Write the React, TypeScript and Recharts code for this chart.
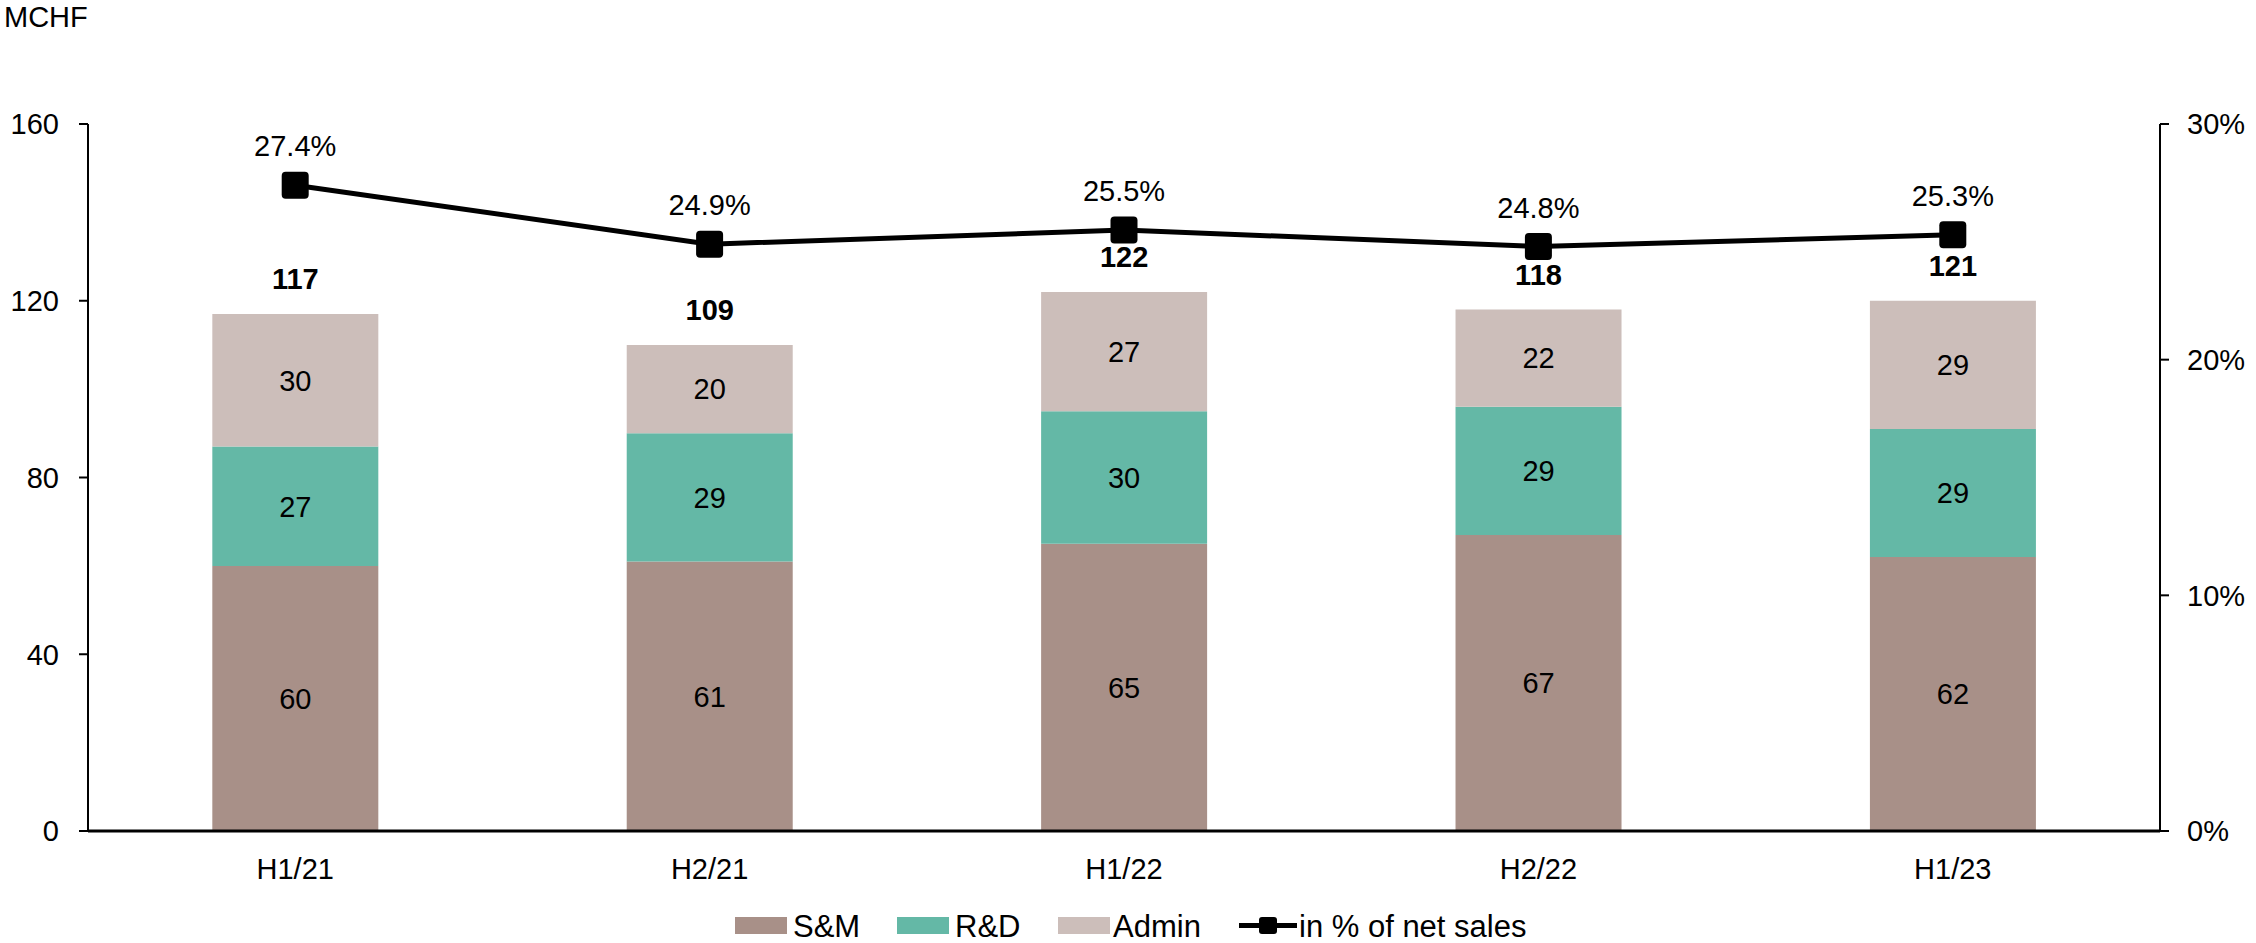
import React from "react";
import { ComposedChart, Bar, Line, XAxis, YAxis, LabelList, Legend } from "recharts";

const periods = ["H1/21", "H2/21", "H1/22", "H2/22", "H1/23"];
const salesMarketing = [60, 61, 65, 67, 62];
const researchDev = [27, 29, 30, 29, 29];
const admin = [30, 20, 27, 22, 29];
const totals = [117, 109, 122, 118, 121];
const pctOfSales = [27.4, 24.9, 25.5, 24.8, 25.3];

const leftTicks = [0, 40, 80, 120, 160];
const rightTicks = [0, 10, 20, 30];

const FONT = "'Liberation Sans', Arial, sans-serif";
const C_SM = "#A89088";
const C_RD = "#64B8A6";
const C_ADMIN = "#CCBEBA";

const data = periods.map((p, i) => ({
    period: p,
    sm: salesMarketing[i],
    rd: researchDev[i],
    admin: admin[i],
    pct: pctOfSales[i],
}));

const SquareDot = (props: any) => {
    const { cx, cy } = props;
    if (cx == null || cy == null) return null;
    return <rect x={cx - 13.5} y={cy - 13.5} width={27} height={27} rx={4} fill="#000" />;
};

const TotalLabel = (props: any) => {
    const { x, y, width, index } = props;
    return (
        <text x={x + width / 2} y={y - 25} textAnchor="middle" fontSize={29} fontWeight="bold" fontFamily={FONT} fill="#000">
            {totals[index]}
        </text>
    );
};

const PctLabel = (props: any) => {
    const { x, y, index } = props;
    return (
        <text x={x} y={y - 29} textAnchor="middle" fontSize={29} fontFamily={FONT} fill="#000">
            {pctOfSales[index].toFixed(1)}%
        </text>
    );
};

// legend drawn by hand so the swatches and spacing follow the original
const LegendContent = () => (
    <svg width={800} height={38} style={{ display: "block", overflow: "visible" }}>
        <g fontSize={31} fontFamily={FONT} fill="#000">
            <rect x={0} y={14} width={52} height={17} fill={C_SM} />
            <text x={58} y={34}>S&amp;M</text>
            <rect x={162} y={14} width={52} height={17} fill={C_RD} />
            <text x={220} y={34}>R&amp;D</text>
            <rect x={323} y={14} width={52} height={17} fill={C_ADMIN} />
            <text x={378} y={34}>Admin</text>
            <line x1={504} y1={22.5} x2={562} y2={22.5} stroke="#000" strokeWidth={5} />
            <rect x={524} y={14} width={18} height={17} rx={3} fill="#000" />
            <text x={564} y={34}>in % of net sales</text>
        </g>
    </svg>
);

export default function App() {
    return (
        <div style={{ position: "absolute", left: 0, top: 0, width: 2256, height: 943, background: "#fff", overflow: "hidden" }}>
            <div style={{ position: "absolute", left: 4, top: 1, fontSize: 29, fontFamily: FONT, color: "#000" }}>MCHF</div>
            <ComposedChart
                width={2256}
                height={943}
                data={data}
                margin={{ top: 124, right: 0, left: 0, bottom: 34 }}
                barCategoryGap="30%"
            >
                <XAxis
                    dataKey="period"
                    axisLine={{ stroke: "#000", strokeWidth: 3 }}
                    tickLine={false}
                    tickSize={0}
                    tickMargin={27}
                    height={40}
                    tick={{ fontSize: 29, fill: "#000", fontFamily: FONT }}
                />
                <YAxis
                    yAxisId="left"
                    domain={[0, 160]}
                    ticks={leftTicks}
                    width={88}
                    axisLine={{ stroke: "#000", strokeWidth: 2 }}
                    tickLine={{ stroke: "#000", strokeWidth: 2 }}
                    tickSize={9}
                    tickMargin={20}
                    tick={{ fontSize: 29, fill: "#000", fontFamily: FONT }}
                />
                <YAxis
                    yAxisId="right"
                    orientation="right"
                    domain={[0, 30]}
                    ticks={rightTicks}
                    width={96}
                    axisLine={{ stroke: "#000", strokeWidth: 2 }}
                    tickLine={{ stroke: "#000", strokeWidth: 2 }}
                    tickSize={9}
                    tickMargin={18}
                    tickFormatter={(v) => `${v}%`}
                    tick={{ fontSize: 29, fill: "#000", fontFamily: FONT }}
                />
                <Legend
                    verticalAlign="bottom"
                    content={<LegendContent />}
                    wrapperStyle={{ top: 903, left: 735, width: 800, height: 38 }}
                />
                <Bar yAxisId="left" dataKey="sm" name="S&M" stackId="a" fill={C_SM} isAnimationActive={false}>
                    <LabelList dataKey="sm" position="center" fontSize={29} fill="#000" fontFamily={FONT} />
                </Bar>
                <Bar yAxisId="left" dataKey="rd" name="R&D" stackId="a" fill={C_RD} isAnimationActive={false}>
                    <LabelList dataKey="rd" position="center" fontSize={29} fill="#000" fontFamily={FONT} />
                </Bar>
                <Bar yAxisId="left" dataKey="admin" name="Admin" stackId="a" fill={C_ADMIN} isAnimationActive={false}>
                    <LabelList dataKey="admin" position="center" fontSize={29} fill="#000" fontFamily={FONT} />
                    <LabelList dataKey="admin" content={<TotalLabel />} />
                </Bar>
                <Line
                    yAxisId="right"
                    dataKey="pct"
                    name="in % of net sales"
                    stroke="#000"
                    strokeWidth={5}
                    dot={<SquareDot />}
                    activeDot={false}
                    isAnimationActive={false}
                >
                    <LabelList dataKey="pct" content={<PctLabel />} />
                </Line>
            </ComposedChart>
        </div>
    );
}
